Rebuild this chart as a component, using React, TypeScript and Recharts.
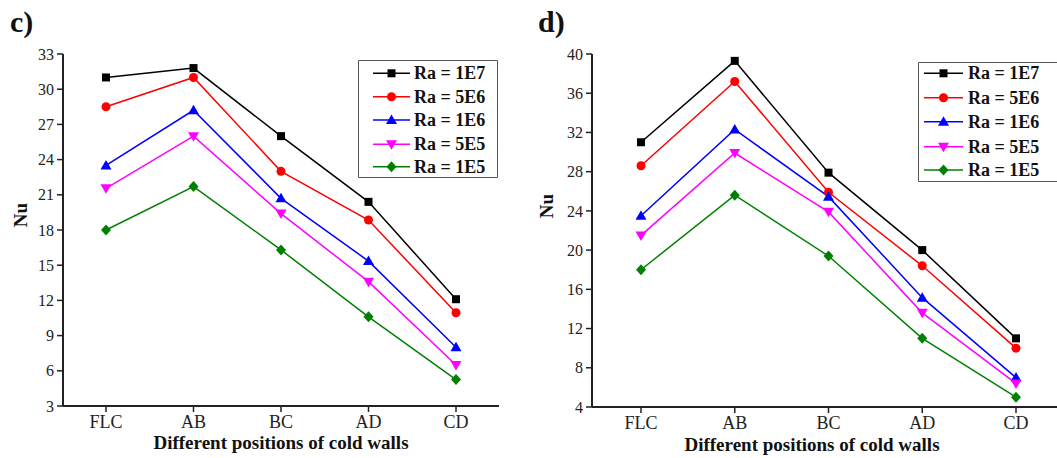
import React from 'react';
import { LineChart, Line, XAxis, YAxis, Legend } from 'recharts';

const categories = ['FLC', 'AB', 'BC', 'AD', 'CD'];

// panel c)
const c_1E7 = [31, 31.8, 26, 20.4, 12.1];
const c_5E6 = [28.5, 31, 23, 18.85, 10.95];
const c_1E6 = [23.5, 28.2, 20.7, 15.35, 8];
const c_5E5 = [21.55, 26, 19.4, 13.6, 6.5];
const c_1E5 = [18, 21.7, 16.3, 10.6, 5.25];
const cTicks = [3, 6, 9, 12, 15, 18, 21, 24, 27, 30, 33];

// panel d)
const d_1E7 = [31, 39.3, 27.9, 20, 11];
const d_5E6 = [28.6, 37.2, 25.9, 18.4, 10];
const d_1E6 = [23.5, 32.3, 25.45, 15.15, 7];
const d_5E5 = [21.5, 29.9, 23.9, 13.6, 6.4];
const d_1E5 = [18, 25.6, 19.4, 11, 5];
const dTicks = [4, 8, 12, 16, 20, 24, 28, 32, 36, 40];

const seriesNames = ['Ra = 1E7', 'Ra = 5E6', 'Ra = 1E6', 'Ra = 5E5', 'Ra = 1E5'];
const seriesKeys = ['r1e7', 'r5e6', 'r1e6', 'r5e5', 'r1e5'];
const seriesColors = ['#000000', '#FF0000', '#0000FF', '#FF00FF', '#008000'];
const seriesShapes = ['square', 'circle', 'triangle', 'triangleDown', 'diamond'];

const buildData = (arrs: number[][]) =>
  categories.map((cat, i) => {
    const row: any = { cat };
    seriesKeys.forEach((k, j) => (row[k] = arrs[j][i]));
    return row;
  });

const cData = buildData([c_1E7, c_5E6, c_1E6, c_5E5, c_1E5]);
const dData = buildData([d_1E7, d_5E6, d_1E6, d_5E5, d_1E5]);

const SERIF = '"Liberation Serif", "Times New Roman", serif';
const AX = '#222';

function Marker({ cx, cy, shape, color }: any) {
  if (cx == null || cy == null) return null;
  switch (shape) {
    case 'square':
      return <rect x={cx - 4} y={cy - 4} width={8} height={8} fill={color} />;
    case 'circle':
      return <circle cx={cx} cy={cy} r={4.5} fill={color} />;
    case 'triangle':
      return <polygon points={`${cx},${cy - 5.5} ${cx + 5.5},${cy + 4} ${cx - 5.5},${cy + 4}`} fill={color} />;
    case 'triangleDown':
      return <polygon points={`${cx},${cy + 5.5} ${cx + 5.5},${cy - 4} ${cx - 5.5},${cy - 4}`} fill={color} />;
    case 'diamond':
      return <polygon points={`${cx},${cy - 5.5} ${cx + 5},${cy} ${cx},${cy + 5.5} ${cx - 5},${cy}`} fill={color} />;
    default:
      return null;
  }
}

function LegendBox({ w, h, rows, lineX, textX, openRight }: any) {
  const border = openRight
    ? `M${w},0.5 H0.5 V${h - 0.5} H${w}`
    : `M0.5,0.5 H${w - 0.5} V${h - 0.5} H0.5 Z`;
  return (
    <svg width={w} height={h} style={{ display: 'block' }}>
      <rect x={0} y={0} width={w} height={h} fill="#fff" />
      <path d={border} fill="none" stroke="#555" strokeWidth={1} />
      {seriesNames.map((name, i) => (
        <g key={name}>
          <line x1={lineX[0]} y1={rows[i]} x2={lineX[1]} y2={rows[i]} stroke={seriesColors[i]} strokeWidth={1.5} />
          <Marker cx={(lineX[0] + lineX[1]) / 2} cy={rows[i]} shape={seriesShapes[i]} color={seriesColors[i]} />
          <text
            x={textX}
            y={rows[i]}
            dominantBaseline="central"
            fontFamily={SERIF}
            fontWeight="bold"
            fontSize={18}
            fill="#111"
          >
            {name}
          </text>
        </g>
      ))}
    </svg>
  );
}

function Panel({ data, ticks, width, margin, yWidth, xPad, legendPos, legendProps, nuPos, titlePos, rightBorder }: any) {
  const nuLabel = () => (
    <text
      x={nuPos[0]}
      y={nuPos[1]}
      transform={`rotate(-90, ${nuPos[0]}, ${nuPos[1]})`}
      textAnchor="middle"
      dominantBaseline="central"
      fontFamily={SERIF}
      fontWeight="bold"
      fontSize={19}
      fill="#111"
    >
      Nu
    </text>
  );
  const xTitle = () => (
    <text x={titlePos[0]} y={titlePos[1]} textAnchor="middle" fontFamily={SERIF} fontWeight="bold" fontSize={19} fill="#111">
      Different positions of cold walls
    </text>
  );
  return (
    <LineChart width={width} height={458} data={data} margin={margin}>
      <XAxis
        dataKey="cat"
        type="category"
        height={30}
        padding={xPad}
        axisLine={{ stroke: AX, strokeWidth: 2 }}
        tickLine={{ stroke: AX, strokeWidth: 1.5 }}
        tickSize={6}
        tickMargin={3}
        tick={{ fontFamily: SERIF, fontSize: 18, fill: '#222' }}
        label={xTitle}
      />
      <XAxis
        xAxisId="top"
        dataKey="cat"
        orientation="top"
        height={0}
        tick={false}
        tickLine={false}
        axisLine={{ stroke: AX, strokeWidth: 2 }}
      />
      <YAxis
        type="number"
        domain={[ticks[0], ticks[ticks.length - 1]]}
        ticks={ticks}
        width={yWidth}
        interval={0}
        axisLine={{ stroke: AX, strokeWidth: 2 }}
        tickLine={{ stroke: AX, strokeWidth: 1.5 }}
        tickSize={6}
        tickMargin={3}
        tick={{ fontFamily: SERIF, fontSize: 16, fill: '#222' }}
        label={nuLabel}
      />
      {rightBorder && (
        <YAxis
          yAxisId="right"
          orientation="right"
          type="number"
          domain={[ticks[0], ticks[ticks.length - 1]]}
          width={0}
          tick={false}
          tickLine={false}
          axisLine={{ stroke: AX, strokeWidth: 2 }}
        />
      )}
      {seriesKeys.map((k, i) => (
        <Line
          key={k}
          dataKey={k}
          name={seriesNames[i]}
          stroke={seriesColors[i]}
          strokeWidth={1.5}
          isAnimationActive={false}
          dot={(p: any) => <Marker key={`${k}-${p.index}`} cx={p.cx} cy={p.cy} shape={seriesShapes[i]} color={seriesColors[i]} />}
          activeDot={false}
        />
      ))}
      <Legend
        layout="vertical"
        align="center"
        verticalAlign="middle"
        wrapperStyle={{ position: 'absolute', left: legendPos[0], top: legendPos[1], width: 'auto', height: 'auto' }}
        content={() => <LegendBox {...legendProps} />}
      />
    </LineChart>
  );
}

const labelStyle: React.CSSProperties = {
  position: 'absolute',
  fontFamily: SERIF,
  fontWeight: 'bold',
  fontSize: 30,
  lineHeight: 1,
  color: '#111',
};

export default function App() {
  return (
    <div style={{ position: 'absolute', left: 0, top: 0, width: 1057, height: 458, overflow: 'hidden', background: '#fff' }}>
      <div style={{ position: 'absolute', left: 0, top: 0, width: 530, height: 458 }}>
        <Panel
          data={cData}
          ticks={cTicks}
          width={530}
          margin={{ top: 54, right: 31, bottom: 22, left: 0 }}
          yWidth={63}
          xPad={{ left: 43, right: 43 }}
          legendPos={[358, 60]}
          legendProps={{ w: 140, h: 118, rows: [13.3, 36.7, 60, 84.3, 106.7], lineX: [15, 52], textX: 56, openRight: false }}
          nuPos={[20, 215]}
          titlePos={[281, 449]}
          rightBorder={true}
        />
      </div>
      <div style={{ position: 'absolute', left: 530, top: 0, width: 527, height: 458 }}>
        <Panel
          data={dData}
          ticks={dTicks}
          width={527}
          margin={{ top: 54, right: 0, bottom: 21, left: 0 }}
          yWidth={62}
          xPad={{ left: 49, right: 41 }}
          legendPos={[388, 62]}
          legendProps={{ w: 139, h: 120, rows: [11.3, 35.7, 59.7, 84.7, 108], lineX: [6, 45], textX: 50, openRight: true }}
          nuPos={[16, 206]}
          titlePos={[282, 451]}
          rightBorder={false}
        />
      </div>
      <div style={{ ...labelStyle, left: 10, top: 7 }}>c)</div>
      <div style={{ ...labelStyle, left: 538, top: 7 }}>d)</div>
    </div>
  );
}
